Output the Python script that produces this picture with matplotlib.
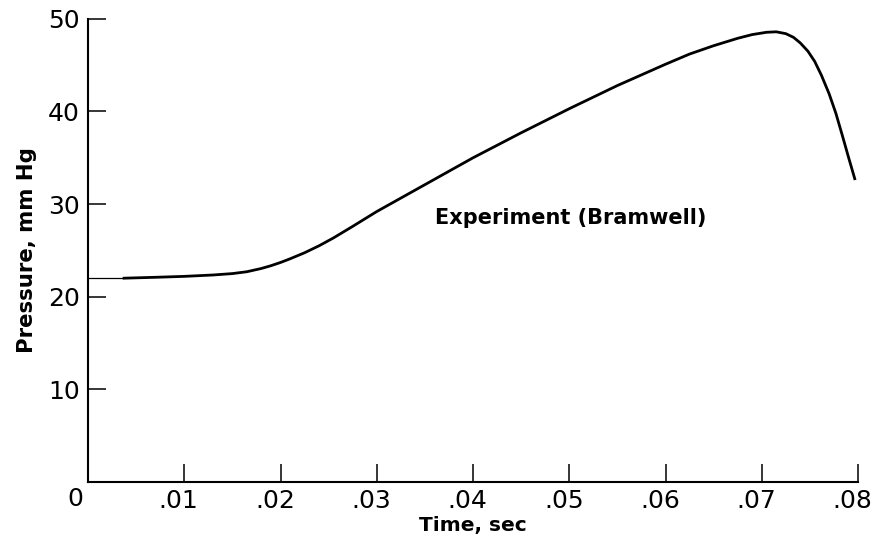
import matplotlib
matplotlib.use("Agg")
import matplotlib.pyplot as plt
from matplotlib.transforms import ScaledTranslation

# Pressure trace (Bramwell experiment)
time_s = [0.0, 0.0036, 0.007, 0.01, 0.013, 0.015, 0.0165, 0.018, 0.019, 0.02,
          0.021, 0.0225, 0.024, 0.0255, 0.0275, 0.03, 0.035, 0.04, 0.045, 0.05,
          0.055, 0.06, 0.0625, 0.065, 0.0675, 0.069, 0.0705, 0.0715, 0.0725,
          0.0733, 0.074, 0.0748, 0.0755, 0.0762, 0.077, 0.0777, 0.0784,
          0.079, 0.0797]
pressure = [22.0, 22.0, 22.1, 22.2, 22.35, 22.5, 22.7, 23.05, 23.35, 23.7,
            24.1, 24.75, 25.5, 26.35, 27.6, 29.2, 32.1, 35.0, 37.7, 40.3,
            42.8, 45.1, 46.2, 47.1, 47.9, 48.3, 48.55, 48.6, 48.4,
            48.0, 47.4, 46.5, 45.4, 43.9, 41.9, 39.8, 37.3,
            35.1, 32.6]

x_ticks = [0, 0.01, 0.02, 0.03, 0.04, 0.05, 0.06, 0.07, 0.08]
x_labels = ["", ".01", ".02", ".03", ".04", ".05", ".06", ".07", ".08"]
y_ticks = [10, 20, 30, 40, 50]
y_labels = ["10", "20", "30", "40", "50"]

fig = plt.figure(figsize=(8.75, 5.43), dpi=100)
ax = fig.add_axes([0.1006, 0.1123, 0.88, 0.853])

# thin lead-in, then the heavier trace
ax.plot(time_s[:2], pressure[:2], color="black", lw=0.9)
ax.plot(time_s[1:], pressure[1:], color="black", lw=2.0,
        solid_joinstyle="round", solid_capstyle="butt")

ax.set_xlim(0, 0.08)
ax.set_ylim(0, 50)
for side in ("top", "right"):
    ax.spines[side].set_visible(False)
for side in ("left", "bottom"):
    ax.spines[side].set_linewidth(1.5)

ax.set_xticks(x_ticks)
ax.set_xticklabels(x_labels)
ax.set_yticks(y_ticks)
ax.set_yticklabels(y_labels)
ax.tick_params(direction="in", length=13, width=1.1, labelsize=18)
ax.tick_params(axis="x", pad=5)
ax.tick_params(axis="y", pad=6)

# the dot makes the labels sit a little left of their ticks
shift = ScaledTranslation(-4 / 72, 0, fig.dpi_scale_trans)
for lab in ax.get_xticklabels():
    lab.set_transform(lab.get_transform() + shift)

ax.annotate("0", xy=(0, 0), xytext=(-9, -12), textcoords="offset points",
            ha="center", va="center", fontsize=18)

ax.set_xlabel("Time, sec", fontsize=14.5, fontweight="bold", labelpad=2)
ax.set_ylabel("Pressure, mm Hg", fontsize=15.3, fontweight="bold", labelpad=8)

ax.text(0.0361, 28.5, "Experiment (Bramwell)", fontsize=15,
        fontweight="bold", ha="left", va="center")

fig.savefig("out.png", dpi=100)
